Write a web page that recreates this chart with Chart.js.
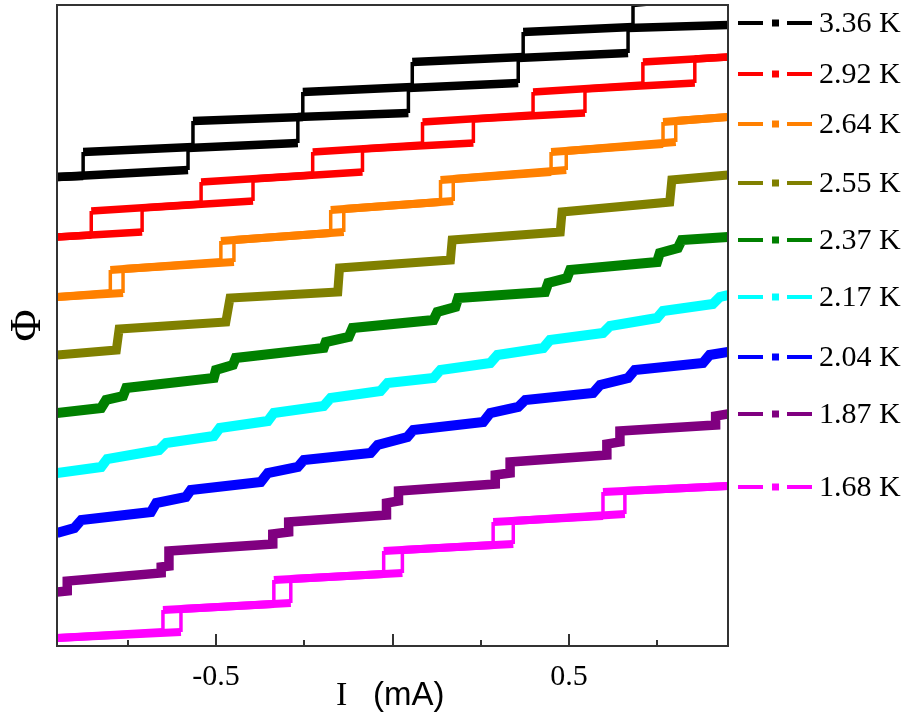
<!DOCTYPE html>
<html lang="en">
<head>
  <meta charset="UTF-8" />
  <title>Flux steps vs current</title>
  <script src="https://cdn.jsdelivr.net/npm/chart.js"></script>
  <style>
    body { margin: 0; background: #fff; }
    canvas { display: block; }
  </style>
</head>
<body>
  <canvas id="chart" width="909" height="723"></canvas>
  <script>
    // x = I (mA), y = Phi (arbitrary units)
    const temps = ['3.36 K', '2.92 K', '2.64 K', '2.55 K', '2.37 K', '2.17 K', '2.04 K', '1.87 K', '1.68 K'];
    const colors = ['#000000', '#ff0000', '#ff8000', '#808000', '#008000', '#00ffff', '#0000ff', '#800080', '#ff00ff'];

    const tickValues = [-0.75, -0.5, -0.25, 0, 0.25, 0.5, 0.75];
    const tickLabels = ['', '-0.5', '', '', '', '0.5', ''];
    const majorTicks = [-0.5, 0, 0.5];

    // 3.36 K, up and down sweeps
    const up336 = [[-0.95,469],[-0.579,476],[-0.579,498],[-0.268,503],[-0.268,529],[0.045,533],[0.045,558],[0.356,563],[0.356,588],[0.667,593],[0.667,618],[0.95,621]];
    const down336 = [[0.95,652],[0.681,643],[0.681,619],[0.370,614],[0.370,589],[0.056,584],[0.056,559],[-0.254,554],[-0.254,529],[-0.565,525],[-0.565,499],[-0.876,494],[-0.876,470],[-0.95,469]];
    // 2.92 K
    const up292 = [[-0.95,409],[-0.709,414],[-0.709,438],[-0.395,445],[-0.395,467],[-0.085,474],[-0.085,497],[0.229,503],[0.229,527],[0.545,533],[0.545,557],[0.856,563],[0.856,587],[0.95,589]];
    const down292 = [[0.95,589],[0.709,584],[0.709,561],[0.398,554],[0.398,531],[0.085,524],[0.085,501],[-0.226,494],[-0.226,471],[-0.542,464],[-0.542,442],[-0.853,435],[-0.853,411],[-0.95,409]];
    // 2.64 K
    const up264 = [[-0.95,349],[-0.763,353],[-0.763,377],[-0.449,384],[-0.449,406],[-0.138,414],[-0.138,437],[0.172,445],[0.172,467],[0.492,476],[0.492,495],[0.802,504],[0.802,525],[0.95,529]];
    const down264 = [[0.95,529],[0.766,524],[0.766,502],[0.449,494],[0.449,474],[0.136,466],[0.136,444],[-0.175,436],[-0.175,413],[-0.486,405],[-0.486,384],[-0.799,376],[-0.799,353],[-0.95,349]];
    // 2.55 K
    const path255 = [[-0.95,291],[-0.782,296],[-0.774,317],[-0.472,324],[-0.460,348],[-0.155,354],[-0.150,378],[0.164,386],[0.169,406],[0.475,414],[0.480,434],[0.785,444],[0.791,466],[0.95,471]];
    // 2.37 K
    const path237 = [[-0.95,233],[-0.825,238],[-0.811,246],[-0.763,250],[-0.754,258],[-0.506,268],[-0.500,276],[-0.452,281],[-0.444,288],[-0.195,298],[-0.189,304],[-0.124,309],[-0.113,318],[0.116,326],[0.127,334],[0.178,339],[0.186,348],[0.432,354],[0.441,363],[0.494,368],[0.503,376],[0.749,384],[0.757,393],[0.808,398],[0.819,406],[0.95,409]];
    // 2.17 K
    const path217 = [[-0.95,173],[-0.825,179],[-0.808,187],[-0.661,196],[-0.641,203],[-0.506,210],[-0.489,218],[-0.353,225],[-0.336,233],[-0.195,240],[-0.175,248],[-0.034,255],[-0.014,263],[0.116,268],[0.136,276],[0.277,283],[0.297,291],[0.427,298],[0.446,306],[0.596,313],[0.616,320],[0.749,328],[0.766,335],[0.907,342],[0.927,349],[0.95,351]];
    // 2.04 K
    const path204 = [[-0.95,113],[-0.901,118],[-0.881,126],[-0.684,134],[-0.669,143],[-0.585,149],[-0.571,156],[-0.373,164],[-0.353,173],[-0.268,179],[-0.251,186],[-0.062,193],[-0.042,201],[0.042,209],[0.059,216],[0.257,224],[0.277,233],[0.356,239],[0.376,246],[0.568,253],[0.588,261],[0.667,268],[0.686,276],[0.879,283],[0.898,291],[0.95,294]];
    // 1.87 K
    const path187 = [[-0.95,54],[-0.921,55],[-0.921,65],[-0.655,73],[-0.655,79],[-0.633,80],[-0.633,95],[-0.339,102],[-0.339,112],[-0.294,114],[-0.294,124],[-0.017,131],[-0.017,143],[0.017,145],[0.017,155],[0.291,162],[0.291,171],[0.333,173],[0.333,184],[0.607,191],[0.607,202],[0.644,204],[0.644,215],[0.915,221],[0.915,230],[0.95,232]];
    // 1.68 K
    const up168 = [[-0.95,8],[-0.599,14],[-0.599,37],[-0.288,43],[-0.288,67],[0.028,73],[0.028,96],[0.342,102],[0.342,125],[0.658,132],[0.658,155],[0.95,160]];
    const down168 = [[0.95,160],[0.596,154],[0.596,130],[0.285,124],[0.285,101],[-0.025,95],[-0.025,72],[-0.336,66],[-0.336,42],[-0.650,36],[-0.650,14],[-0.95,8]];

    const sweeps = [[up336, down336], [up292, down292], [up264, down264], [path255], [path237], [path217], [path204], [path187], [up168, down168]];
    const hysteretic = [true, true, true, false, false, false, false, false, true];
    const widths = [8.5, 7.5, 8, 9, 10, 10, 10, 9.5, 8];
    const THIN = 3.5;

    const datasets = [];
    sweeps.forEach((paths, i) => {
      paths.forEach(p => {
        const ds = {
          label: temps[i],
          data: p.map(d => ({ x: d[0], y: d[1] })),
          showLine: true,
          borderColor: colors[i],
          backgroundColor: colors[i],
          borderWidth: widths[i],
          pointRadius: 0,
          borderJoinStyle: 'miter'
        };
        // jumps are drawn thin, plateaus thick
        if (hysteretic[i]) ds.segment = { borderWidth: c => c.p0.parsed.x === c.p1.parsed.x ? THIN : widths[i] };
        datasets.push(ds);
      });
    });

    const legendY = [23, 74, 124, 183, 240, 297, 357, 414, 487];

    const framePlugin = {
      id: 'frame',
      afterDraw(chart) {
        const { ctx, chartArea: a, scales: { x } } = chart;
        ctx.save();
        ctx.strokeStyle = '#333';
        ctx.lineWidth = 2;
        ctx.strokeRect(a.left, a.top, a.right - a.left, a.bottom - a.top);
        // inward ticks on the bottom axis
        tickValues.forEach(v => {
          const px = Math.round(x.getPixelForValue(v));
          const len = majorTicks.includes(v) ? 12 : 6;
          ctx.beginPath();
          ctx.moveTo(px, a.bottom);
          ctx.lineTo(px, a.bottom - len);
          ctx.stroke();
        });
        // axis title: serif I, sans (mA)
        ctx.fillStyle = '#000';
        ctx.textBaseline = 'alphabetic';
        ctx.textAlign = 'left';
        ctx.font = '34px "Liberation Serif"';
        ctx.fillText('I', 336, 705);
        ctx.font = '33px "Liberation Sans"';
        ctx.fillText('(mA)', 373, 705);
        // legend
        temps.forEach((t, i) => {
          const y = legendY[i];
          ctx.fillStyle = colors[i];
          ctx.fillRect(738, y - 2, 25, 4);
          ctx.fillRect(772, y - 3.5, 7, 7);
          ctx.fillRect(787, y - 2, 25, 4);
          ctx.fillStyle = '#000';
          ctx.font = '30px "Liberation Serif"';
          ctx.textBaseline = 'middle';
          ctx.fillText(t, 819, y + 1);
        });
        ctx.restore();
      }
    };

    new Chart(document.getElementById('chart'), {
      type: 'scatter',
      data: { datasets },
      options: {
        responsive: false,
        animation: false,
        layout: { padding: { left: 0, top: 5, right: 181, bottom: 0 } },
        plugins: { legend: { display: false }, tooltip: { enabled: false } },
        scales: {
          x: {
            type: 'linear',
            min: -0.95,
            max: 0.95,
            grid: { display: false, drawTicks: false },
            border: { display: false },
            afterBuildTicks: s => { s.ticks = tickValues.map(v => ({ value: v })); },
            afterFit: s => { s.height = 77; },
            ticks: {
              autoSkip: false,
              maxRotation: 0,
              padding: 13,
              color: '#000',
              font: { family: 'Liberation Serif', size: 30 },
              callback: (v, i) => tickLabels[i]
            }
          },
          y: {
            min: 0,
            max: 641,
            grid: { display: false, drawTicks: false },
            border: { display: false },
            ticks: { display: false },
            afterFit: s => { s.width = 57; },
            title: {
              display: true,
              text: 'Φ',
              color: '#000',
              font: { family: 'Liberation Serif', size: 44 },
              padding: { top: 2, bottom: 0 }
            }
          }
        }
      },
      plugins: [framePlugin]
    });
  </script>
</body>
</html>
